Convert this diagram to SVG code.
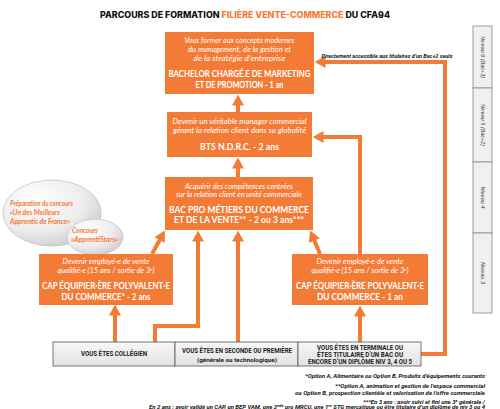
<svg xmlns="http://www.w3.org/2000/svg" width="500" height="409" viewBox="0 0 500 409">
<defs>
<style>
.box{fill:#F47B36}
.it{font-family:Lato,"Open Sans",sans-serif;font-style:italic;font-size:7.4px;fill:#fff;text-anchor:middle}
.bd{font-family:Lato,"Open Sans",sans-serif;font-weight:700;font-size:9.6px;fill:#fff;text-anchor:middle}
.conn{fill:none;stroke:#F47B36;stroke-width:4;stroke-linejoin:miter}
.gbox{fill:url(#gg);stroke:#555;stroke-width:0.8}
.gt{font-family:Roboto,"DejaVu Sans",sans-serif;font-weight:700;font-size:6.3px;fill:#222;text-anchor:middle}
.ft{font-family:Roboto,"DejaVu Sans",sans-serif;font-weight:700;font-style:italic;font-size:5.6px;fill:#111;text-anchor:end}
.lv{font-family:"Liberation Sans",Arial,sans-serif;font-style:italic;font-size:6px;fill:#333;text-anchor:middle}
.el{font-family:Lato,"Open Sans",sans-serif;font-style:italic;font-weight:700;font-size:7px;fill:#F47B36}
</style>
<marker id="ah" viewBox="0 -6 11 12" refX="0.5" refY="0" markerWidth="11" markerHeight="12" markerUnits="userSpaceOnUse" orient="auto">
<path d="M0,-6 L11,0 L0,6 z" fill="#F47B36"/>
</marker>
<linearGradient id="gg" x1="0" y1="0" x2="0" y2="1">
<stop offset="0" stop-color="#f7f7f7"/>
<stop offset="1" stop-color="#e2e2e2"/>
</linearGradient>
<radialGradient id="eg" cx="0.35" cy="0.3" r="0.8">
<stop offset="0" stop-color="#ffffff"/>
<stop offset="0.6" stop-color="#ececec"/>
<stop offset="1" stop-color="#c8c8c8"/>
</radialGradient>
</defs>
<rect width="500" height="409" fill="#fff"/>

<text x="100" y="18" textLength="290" lengthAdjust="spacingAndGlyphs" style="font-family:Inter,'DejaVu Sans',sans-serif;font-weight:800;font-size:8.6px;fill:#111">PARCOURS DE FORMATION <tspan fill="#F47B36">FILIÈRE VENTE-COMMERCE</tspan> DU CFA94</text>

<g id="connectors">
<path class="conn" d="M238,112 V105" marker-end="url(#ah)"/>
<path class="conn" d="M238,177 V168" marker-end="url(#ah)"/>
<path class="conn" d="M115,342 V315" marker-end="url(#ah)"/>
<path class="conn" d="M155,342 V326 H198 V241" marker-end="url(#ah)"/>
<path class="conn" d="M238,342 V241" marker-end="url(#ah)"/>
<path class="conn" d="M152,254 L159.8,239.7" marker-end="url(#ah)"/>
<path class="conn" d="M320,254 L314.2,240.2" marker-end="url(#ah)"/>
<path class="conn" d="M360,342 V316" marker-end="url(#ah)"/>
<path class="conn" d="M360,254 V137 H323" marker-end="url(#ah)"/>
<path class="conn" d="M421,354 H445 V62 H325" marker-end="url(#ah)"/>
<text x="387" y="58" text-anchor="middle" textLength="131" lengthAdjust="spacingAndGlyphs" style="font-family:Roboto,'DejaVu Sans',sans-serif;font-weight:700;font-style:italic;font-size:5.4px;fill:#111">Directement accessible aux titulaires d’un Bac+2 seuls</text>
</g>

<g id="bubble-mof">
<ellipse cx="52" cy="213" rx="49" ry="33" fill="url(#eg)" stroke="#bdbdbd" stroke-width="0.7"/>
<text class="el" x="10" y="206" textLength="63" lengthAdjust="spacingAndGlyphs">Préparation du concours</text>
<text class="el" x="10" y="215" textLength="50" lengthAdjust="spacingAndGlyphs">«Un des Meilleurs</text>
<text class="el" x="10" y="224" textLength="60" lengthAdjust="spacingAndGlyphs">Apprentis de France»</text>
</g>
<g id="bubble-stars">
<ellipse cx="95" cy="237" rx="28" ry="18" fill="url(#eg)" stroke="#bdbdbd" stroke-width="0.7"/>
<text class="el" x="72" y="233" textLength="26" lengthAdjust="spacingAndGlyphs">Concours</text>
<text class="el" x="71" y="242" textLength="47" lengthAdjust="spacingAndGlyphs">«ApprentiStars»</text>
</g>

<g id="bachelor">
<rect class="box" x="165" y="32" width="149" height="62"/>
<text class="it" x="239.5" y="42.5" textLength="110" lengthAdjust="spacingAndGlyphs">Vous former aux concepts modernes</text>
<text class="it" x="239.5" y="51.5" textLength="103" lengthAdjust="spacingAndGlyphs">du management, de la gestion et</text>
<text class="it" x="239.5" y="60.5" textLength="92" lengthAdjust="spacingAndGlyphs">de la stratégie d’entreprise</text>
<text class="bd" x="239.5" y="76.5" textLength="142" lengthAdjust="spacingAndGlyphs">BACHELOR CHARGÉ.E DE MARKETING</text>
<text class="bd" x="239.5" y="87.5" textLength="88" lengthAdjust="spacingAndGlyphs">ET DE PROMOTION - 1 an</text>
</g>

<g id="bts">
<rect class="box" x="167" y="112" width="145" height="45"/>
<text class="it" x="239.5" y="123.5" textLength="134" lengthAdjust="spacingAndGlyphs">Devenir un véritable manager commercial</text>
<text class="it" x="239.5" y="132.5" textLength="133" lengthAdjust="spacingAndGlyphs">gérant la relation client dans sa globalité</text>
<text class="bd" x="239.5" y="149.5" textLength="79" lengthAdjust="spacingAndGlyphs">BTS N.D.R.C. - 2 ans</text>
</g>

<g id="bacpro">
<rect class="box" x="165" y="177" width="148" height="53"/>
<text class="it" x="239" y="188.5" textLength="108" lengthAdjust="spacingAndGlyphs">Acquérir des compétences centrées</text>
<text class="it" x="239" y="197" textLength="126" lengthAdjust="spacingAndGlyphs">sur la relation client en unité commerciale</text>
<text class="bd" x="239" y="212.5" textLength="140" lengthAdjust="spacingAndGlyphs">BAC PRO MÉTIERS DU COMMERCE</text>
<text class="bd" x="239" y="223" textLength="130" lengthAdjust="spacingAndGlyphs">ET DE LA VENTE** - 2 ou 3 ans***</text>
</g>

<g id="cap-2ans">
<rect class="box" x="39" y="254" width="134" height="51"/>
<text class="it" x="106" y="264" textLength="87" lengthAdjust="spacingAndGlyphs">Devenir employé·e de vente</text>
<text class="it" x="106" y="273" textLength="97" lengthAdjust="spacingAndGlyphs">qualifié·e (15 ans / sortie de 3<tspan font-size="4.5" dy="-2.5">e</tspan><tspan dy="2.5">)</tspan></text>
<text class="bd" x="106" y="289" textLength="128" lengthAdjust="spacingAndGlyphs">CAP ÉQUIPIER·ÈRE POLYVALENT·E</text>
<text class="bd" x="106" y="299.5" textLength="89" lengthAdjust="spacingAndGlyphs">DU COMMERCE* - 2 ans</text>
</g>

<g id="cap-1an">
<rect class="box" x="292" y="254" width="136" height="51"/>
<text class="it" x="360" y="264" textLength="87" lengthAdjust="spacingAndGlyphs">Devenir employé·e de vente</text>
<text class="it" x="360" y="273" textLength="97" lengthAdjust="spacingAndGlyphs">qualifié·e (15 ans / sortie de 3<tspan font-size="4.5" dy="-2.5">e</tspan><tspan dy="2.5">)</tspan></text>
<text class="bd" x="360" y="289" textLength="128" lengthAdjust="spacingAndGlyphs">CAP ÉQUIPIER·ÈRE POLYVALENT·E</text>
<text class="bd" x="360" y="299.5" textLength="86" lengthAdjust="spacingAndGlyphs">DU COMMERCE - 1 an</text>
</g>

<g id="start-college">
<rect class="gbox" x="53" y="342" width="122" height="24"/>
<text class="gt" x="114" y="356" textLength="66" lengthAdjust="spacingAndGlyphs">VOUS ÊTES COLLÉGIEN</text>
</g>
<g id="start-seconde">
<rect class="gbox" x="175" y="342" width="123" height="24"/>
<text class="gt" x="237" y="353" textLength="110" lengthAdjust="spacingAndGlyphs">VOUS ÊTES EN SECONDE OU PREMIÈRE</text>
<text class="gt" x="237" y="361.5" textLength="80" lengthAdjust="spacingAndGlyphs" style="font-size:5.6px">(générale ou technologique)</text>
</g>
<g id="start-terminale">
<rect class="gbox" x="298" y="342" width="123" height="24"/>
<text class="gt" x="360" y="349.5" textLength="86" lengthAdjust="spacingAndGlyphs">VOUS ÊTES EN TERMINALE OU</text>
<text class="gt" x="360" y="356.5" textLength="86" lengthAdjust="spacingAndGlyphs">ÊTES TITULAIRE D’UN BAC OU</text>
<text class="gt" x="360" y="363.8" textLength="104" lengthAdjust="spacingAndGlyphs">ENCORE D’UN DIPLÔME NIV 3, 4 OU 5</text>
</g>

<g id="levels">
<rect x="473" y="26" width="19" height="62" fill="#f0f0f0" stroke="#888" stroke-width="0.8"/>
<rect x="473" y="88" width="19" height="74" fill="#f0f0f0" stroke="#888" stroke-width="0.8"/>
<rect x="473" y="162" width="19" height="71" fill="#f0f0f0" stroke="#888" stroke-width="0.8"/>
<rect x="473" y="233" width="19" height="80" fill="#f0f0f0" stroke="#888" stroke-width="0.8"/>
<text class="lv" transform="translate(480.5,57) rotate(90)" textLength="42" lengthAdjust="spacingAndGlyphs">Niveau 6 (Bac+3)</text>
<text class="lv" transform="translate(480.5,125) rotate(90)" textLength="42" lengthAdjust="spacingAndGlyphs">Niveau 5 (Bac+2)</text>
<text class="lv" transform="translate(480.5,197.5) rotate(90)" textLength="22" lengthAdjust="spacingAndGlyphs">Niveau 4</text>
<text class="lv" transform="translate(480.5,273) rotate(90)" textLength="22" lengthAdjust="spacingAndGlyphs">Niveau 3</text>
</g>

<g id="footnotes">
<text class="ft" x="485" y="378" textLength="180" lengthAdjust="spacingAndGlyphs">*Option A, Alimentaire ou Option B, Produits d’équipements courants</text>
<text class="ft" x="485" y="388" textLength="150" lengthAdjust="spacingAndGlyphs">**Option A, animation et gestion de l’espace commercial</text>
<text class="ft" x="485" y="394.5" textLength="190" lengthAdjust="spacingAndGlyphs">ou Option B, prospection clientèle et valorisation de l’offre commerciale</text>
<text class="ft" x="485" y="403.5" textLength="122" lengthAdjust="spacingAndGlyphs">***En 3 ans : avoir suivi et fini une 3<tspan font-size="3.8" dy="-2">e</tspan><tspan dy="2"> générale /</tspan></text>
<text class="ft" x="485" y="408.5" textLength="336" lengthAdjust="spacingAndGlyphs">En 2 ans : avoir validé un CAP, un BEP VAM, une 2<tspan font-size="3.8" dy="-2">nde</tspan><tspan dy="2"> pro MRCU, une 1</tspan><tspan font-size="3.8" dy="-2">re</tspan><tspan dy="2"> STG mercatique </tspan><tspan text-decoration="underline">ou</tspan> être titulaire d’un diplôme de niv 3 ou 4</text>
</g>
</svg>
